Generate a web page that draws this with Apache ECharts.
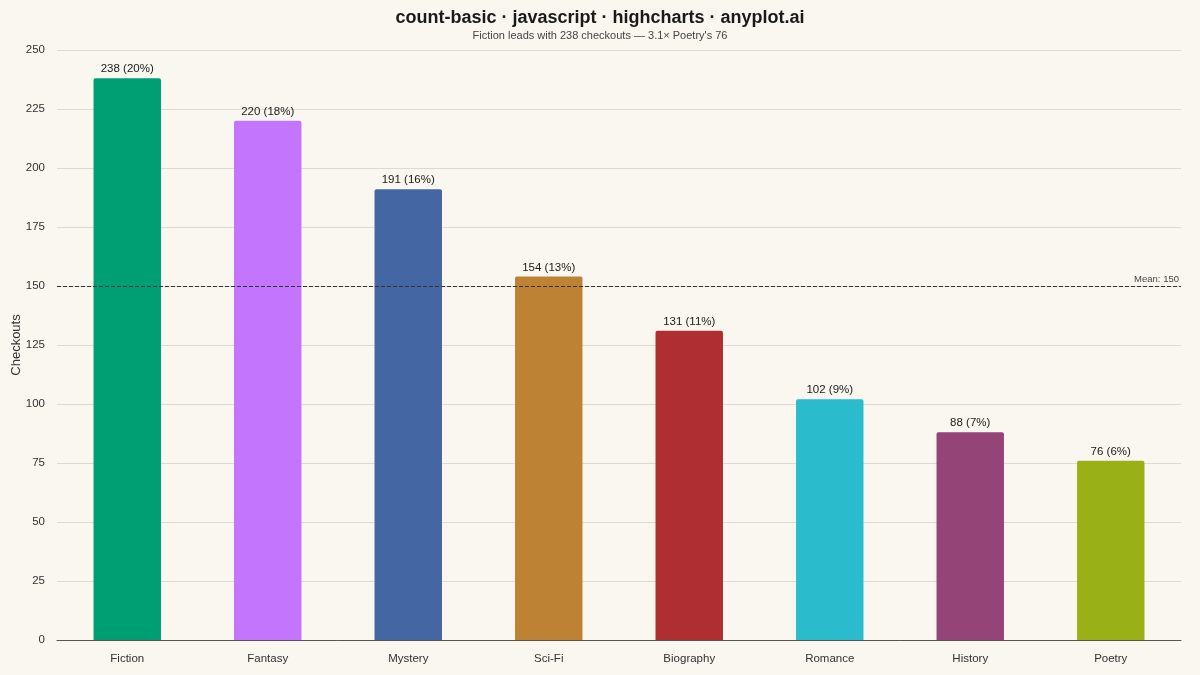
<!DOCTYPE html>
<html lang="en">
<head>
    <meta charset="UTF-8">
    <title>count-basic</title>
    <script src="https://cdn.jsdelivr.net/npm/echarts@6/dist/echarts.min.js"></script>
    <style>
        html, body { margin: 0; padding: 0; background: #FAF7F1; }
        #chart { width: 1200px; height: 675px; }
    </style>
</head>
<body>
<div id="chart"></div>
<script>
    // data
    var categories = ['Fiction', 'Fantasy', 'Mystery', 'Sci-Fi', 'Biography', 'Romance', 'History', 'Poetry'];
    var checkouts = [238, 220, 191, 154, 131, 102, 88, 76];
    var barColors = ['#009E73', '#C475FD', '#4467A3', '#BD8233', '#AE2E31', '#2ABBCD', '#954477', '#99B116'];
    var meanValue = 150;

    var total = checkouts.reduce(function (a, b) { return a + b; }, 0);

    var chart = echarts.init(document.getElementById('chart'));
    var option = {
        backgroundColor: '#FAF7F1',
        textStyle: { fontFamily: 'Liberation Sans, Arial, sans-serif' },
        title: {
            text: 'count-basic · javascript · highcharts · anyplot.ai',
            subtext: 'Fiction leads with 238 checkouts — 3.1× Poetry\'s 76',
            left: 'center',
            top: 4,
            itemGap: 3,
            textStyle: { fontSize: 18, fontWeight: 'bold', color: '#1a1a1a' },
            subtextStyle: { fontSize: 11, color: '#444' }
        },
        grid: { left: 57, right: 19, top: 50, bottom: 35, containLabel: false, outerBoundsMode: 'none' },
        xAxis: {
            type: 'category',
            data: categories,
            axisLine: { lineStyle: { color: '#555', width: 1 } },
            axisTick: { show: false },
            axisLabel: { color: '#333', fontSize: 11.5, margin: 13 }
        },
        yAxis: {
            type: 'value',
            name: 'Checkouts',
            nameLocation: 'middle',
            nameGap: 34,
            nameMoveOverlap: false,
            nameTextStyle: { color: '#333', fontSize: 13 },
            min: 0,
            max: 250,
            interval: 25,
            axisLine: { show: false },
            axisTick: { show: false },
            axisLabel: { color: '#333', fontSize: 11.5, margin: 12 },
            splitLine: { lineStyle: { color: '#DDDAD3' } }
        },
        series: [{
            type: 'bar',
            barCategoryGap: '52%',
            data: checkouts.map(function (v, i) {
                return { value: v, itemStyle: { color: barColors[i], borderRadius: [2, 2, 0, 0] } };
            }),
            label: {
                show: true,
                position: 'top',
                distance: 3,
                color: '#1a1a1a',
                fontSize: 11.5,
                formatter: function (p) {
                    return p.value + ' (' + Math.round(p.value / total * 100) + '%)';
                }
            },
            markLine: {
                symbol: 'none',
                silent: true,
                data: [{ yAxis: meanValue }],
                lineStyle: { color: '#333', type: [4, 2], width: 1 },
                label: {
                    position: 'insideEndTop',
                    formatter: 'Mean: ' + meanValue,
                    color: '#444',
                    fontSize: 9.5,
                    distance: 2
                }
            }
        }]
    };
    chart.setOption(option);
</script>
</body>
</html>
